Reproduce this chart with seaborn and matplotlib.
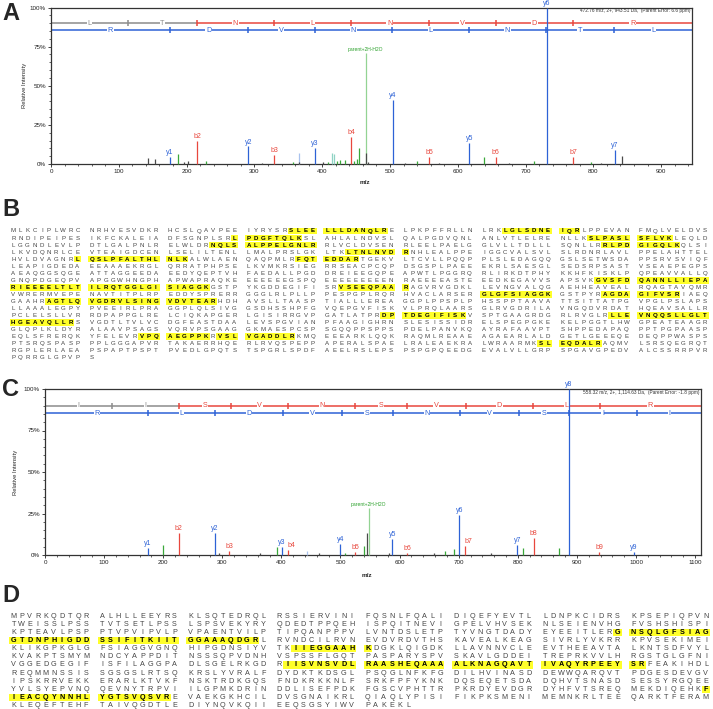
import numpy as np
import pandas as pd
import seaborn as sns
import matplotlib.pyplot as plt
from matplotlib.patches import Rectangle
from matplotlib.ticker import MultipleLocator, FuncFormatter

W, H = 713, 709

# ---- panel A spectrum (LTNLNVDR) ----
a_mz = [143, 153, 175.6, 188, 196, 201.6, 216, 228.6, 291, 311, 329, 357, 366, 366.5,
        389, 401, 408, 415, 418, 422, 426, 434, 442.5, 447, 452, 455, 464, 464.5, 468,
        504.5, 521.6, 540, 557.5, 572, 617, 638.6, 656, 676, 713, 731, 770, 797, 812,
        832, 842.6]
a_int = [4, 3, 4.5, 6.4, 1, 2, 14.6, 1.7, 11.2, 0.7, 5.7, 1.5, 7, 1.5,
         10.4, 1, 1, 6.8, 6.5, 2, 2.5, 2.5, 17.4, 2, 3, 10.4, 71, 7, 1,
         41.2, 0.8, 2, 4.7, 0.7, 13.2, 4.7, 4.3, 0.7, 2, 100, 4.3, 1.5, 0.7,
         9, 5.3]
a_kind = ["k", "k", "y", "g", "k", "k", "b", "g", "y", "k", "b", "g", "lb", "k",
          "y", "k", "g", "t", "t", "g", "g", "g", "b", "g", "g", "g", "p", "k", "k",
          "y", "k", "g", "b", "k", "y", "g", "b", "k", "g", "y", "b", "g", "k",
          "y", "k"]
a_label = ["", "", "y1", "", "", "", "b2", "", "y2", "", "b3", "", "", "",
           "y3", "", "", "", "", "", "", "", "b4", "", "", "", "parent+2H-H2O", "", "",
           "y4", "", "", "b5", "", "y5", "", "b6", "", "", "y6", "b7", "", "",
           "y7", ""]
a_b_ticks = [114, 215, 329, 442, 557, 656, 770]
a_b_letters = ["L", "T", "N", "L", "N", "V", "D", "R"]
a_y_ticks = [175, 290, 389, 503, 616, 730, 831]
a_y_letters = ["R", "D", "V", "N", "L", "N", "T", "L"]
a_info = "472.76 m/z, 2+, 943.51 Da,  (Parent Error: 6.6 ppm)"

# ---- panel C spectrum (IISVNSVDLR) ----
c_mz = [174, 199, 226, 287, 295, 312, 364, 393, 401, 411, 443.5, 463, 500, 508, 525,
        539.5, 545, 547.5, 582, 587.6, 613, 658, 676, 692, 701, 710, 754, 799.5, 808,
        826.6, 869, 886, 938, 997]
c_int = [4.4, 6, 13.4, 13.4, 1, 2.2, 1, 4.6, 5, 3, 2.5, 1, 6.6, 1.5, 2,
         5.4, 13, 28.5, 1, 9.4, 1, 1, 2.4, 3.4, 24, 5.4, 1, 6, 4,
         10.4, 4.4, 100, 1.8, 1.8]
c_kind = ["y", "g", "b", "y", "k", "b", "k", "g", "y", "b", "lb", "k", "y", "g", "b",
          "g", "k", "p", "k", "y", "b", "k", "g", "g", "y", "b", "k", "y", "g",
          "b", "g", "y", "b", "y"]
c_label = ["y1", "", "b2", "y2", "", "b3", "", "", "y3", "b4", "", "", "y4", "", "b5",
           "", "", "parent+2H-H2O", "", "y5", "b6", "", "", "", "y6", "b7", "", "y7", "",
           "b8", "", "y8", "b9", "y9"]
c_b_ticks = [113.6, 227, 314, 412, 525, 612, 712, 826, 939]
c_b_letters = ["I", "I", "S", "V", "N", "S", "V", "D", "L", "R"]
c_y_ticks = [175, 288, 403, 502, 589, 703, 802, 886, 1002]
c_y_letters = ["R", "L", "D", "V", "S", "N", "V", "S", "I", "I"]
c_info = "558.32 m/z, 2+, 1,114.63 Da,  (Parent Error: -1.8 ppm)"

# ---- panel B / D sequences, [ ] = identified peptide ----
b_rows = [
    "MLKCIPLWRC NRHVESVDKR HCSLQAVPEE IYRYSR[SLEE] [LLLDANQLR]E LPKPFFRLLN LRK[LGLSDNE] [IQR]LPPEVAN FMQLVELDVS",
    "RNDIPEIPES IKFCKALEIA DFSGNPLSR[L] [PDGFTQLK]SL AHLALNDVSL QALPGDVQNL ANLVTLELRE NLLK[SLPASL] [SFLVK]LEQLD",
    "LGGNDLEVLP DTLGALPNLR ELWLDR[NQLS] [ALPPELGNLR] RLVCLDVSEN RLEELPAELG GLVLLTDLLL SQNLLR[RLPD] [GIGQLK]QLSI",
    "LKVDQNRLCE VTEAIGDCEN LSELILTENL LMALPRSLGK LTK[LTNLNVD] [R]NHLEALPPE IGGCVALSVL SLRDNRLAVL PPELAHTTEL",
    "HVLDVAGNR[L] [QSLPFALTHL] [NLK]ALWLAEN QAQPMLR[FQT] [EDDAR]TGEKV LTCVLLPQQP PLSLEDAGQQ GSLSETWSDA PPSRVSVIQF",
    "LEAPIGDEDA EEAAAEKRGL QRRATPHPSE LKVMKRSIEG RRSEACPCQP DSGSPLPAEE EKRLSAESGL SEDSRPSAST VSEAEPEGPS",
    "AEAQGGSQGE ATTAGGEEDA EEDYQEPTVH FAEDALLPGD DREIEEGQPE APWTLPGGRQ RLIRKDTPHY KKHFKISKLP QPEAVVALLQ",
    "GNQPDGEQPV APGGWHNGPH APWAPRAQKE EEEEEEGSPQ EEEEEEEEEN RAEEEEASTE EEDKEGAVVS APSVK[GVSFD] [QANNLLIEPA]",
    "[RIEEEELTLT] [ILRQTGGLGI] [SIAGGK]GSTP YKGDDEGIFI SR[VSEEQPAA] [R]AGVRVGDKL LEVNGVALQG AEHHEAVEAL RQAGTAVQMR",
    "VWRERMVEPE NAVTITPLRP EDDYSPRERR GGGLRLPLLP PESPGPLRQR HVACLARSER [GLGFSIAGGK] GSTPYR[AGDA] [GIFVSR]IAEQ",
    "GAAHR[AGTLQ] [VGDRVLSING] [VDVTEAR]HDH AVSLLTAASP TIALLLEREA GGPLPPSPLP HSSPPTAAVA TTSITTATPG VPGLPSLAPS",
    "LLAAALEGPY PVEEIRLPRA GGPLQLSIVG GSDHSSHPFG VQEPGVFISK VLPRQLAARS GLRVGDRILA VNGQDVRDAT HQEAVSALLR",
    "PCLELSLLVR RDPAPPGLRE LCIQKAPGER LGISIRRGVP GATLATPR[DP] [TDEGIFISK]V SPTGAAGRDG RLRVGLR[LLE] [VNQQSLLGLT]",
    "[HGEAVQLLR]S VGDTLTVLVC DGFEASTDAA LEVSPGVIAN PFAAGIGHRN SLESISSIDR ELSPEGPGKE KELPGGTLHW GPEATEAAGR",
    "GLQPLKLDYR ALAAVPSAGS VQRVPSGAAG GKMAESPCSP SGQQPPSPPS PDELPANVKQ AYRAFAAVPT SHPPEDAPAQ PPTPGPAASP",
    "EQLSFRERQK YFELEVR[VPQ] [AEGPPK]R[VSL] [VGADDLR]KMQ EEEARKLQQK RAQMLREAAE AGAEARLALD GETLGEEEQE DEQPPWASPS",
    "PTSRQSPASP PPLGGGAPVR TAKAERRHQE RLRVQSPEPP APERALSPAE LRALEAEKRA LWRAARMK[SL] [EQDALR]AQMV LSRSQEGRQT",
    "RGPLERLAEA PSPAPTPSPT PVEDLGPQTS TSPGRLSPDF AEELRSLEPS PSPGPQEEDG EVALVLLGRP SPGAVGPEDV ALCSSRRPVR",
    "PQRRGLGPVP S",
]
d_rows = [
    "MPVRKQDTQR ALHLLEEYRS KLSQTEDRQL RSSIERVINI FQSNLFQALI DIQEFYEVTL LDNPKCIDRS KPSEPIQPVN",
    "TWEISSLPSS TVTSETLPSS LSPSVEKYRY QDEDTPPQEH ISPQITNEVI GPELVHVSEK NLSEIENVHG FVSHSHISPI",
    "KPTEAVLPSP PTVPVIPVLP VPAENTVILP TIPQANPPPV LVNTDSLETP TYVNGTDADY EYEEITLER[G] [NSQLGFSIAG]",
    "[GTDNPHIGDD] [SSIFITKIIT] [GGAAAQDGR]L RVNDCILRVN EVDVRDVTHS KAVEALKEAG SIVRLYVKRR KPVSEKIMEI",
    "KLIKGPKGLG FSIAGGVGNQ HIPGDNSIYV TK[IIEGGAAH] [K]DGKLQIGDK LLAVNNVCLE EVTHEEAVTA LKNTSDFVYL",
    "KVAKPTSMYM NDCYAPPDIT NSSSQPVDNH VSPSSFLGQT PASPARYSPV SKAVLGDDEI TREPRKVVLH RGSTGLGFNI",
    "VGGEDGEGIF ISFILAGGPA DLSGELRKGD R[IISVNSVDL] [RAASHEQAAA] [ALKNAGQAVT] [IVAQYRPEEY] [SR]FEAKIHDL",
    "REQMMNSSIS SGSGSLRTSQ KRSLYVRALF DYDKTKDSGL PSQGLNFKFG DILHVINASD DEWWQARQVT PDGESDEVGV",
    "IPSKRRVEKK ERARLKTVKF NSKTRDKGQS FNDKRKKNLF SRKFPFYKNK DQSEQETSDA DQHVTSNASD SESSYRGQEE",
    "YVLSYEPVNQ QEVNYTRPVI ILGPMKDRIN DDLISEFPDK FGSCVPHTTR PKRDYEVDGR DYHFVTSREQ MEKDIQEHK[F]",
    "[IEACQYNNHL] [YGTSVQSVR]E VAEKGKHCIL DVSGNAIKRL QIAQLYPISI FIKPKSMENI MEMNKRLTEE QARKTFERAM",
    "KLEQEFTEHF TAIVQGDTLE DIYNQVKQII EEQSGSYIWV PAKEKL",
]

peak_col = {"y": "#2d62d6", "b": "#e8473d", "p": "#93d393", "g": "#3aa83a",
            "k": "#4a4a4a", "lb": "#a9c2ee", "t": "#8fd3c4"}
label_col = {"y": "#2d62d6", "b": "#e8473d", "p": "#2aa02a"}
GREY, RED, BLUE = "#8c8c8c", "#e8473d", "#2d62d6"
HL = "#ffff2a"

sns.set_style("white")
plt.rcParams["font.family"] = ["Liberation Sans", "DejaVu Sans"]

fig = plt.figure(figsize=(7.13, 7.09), dpi=100)


def px_axes(left, top, right, bottom):
    return fig.add_axes([left / W, (H - bottom) / H, (right - left) / W, (bottom - top) / H])


def ladder(ax, ticks, letters, yv, xmax, col, ngrey=0):
    bounds = [0] + ticks + [xmax]
    for j, let in enumerate(letters):
        c = GREY if j < ngrey else col
        ax.plot([bounds[j], bounds[j + 1]], [yv, yv], color=c, lw=1.1, zorder=2,
                solid_capstyle="butt")
        ax.text((bounds[j] + bounds[j + 1]) / 2, yv, let, color=c, fontsize=5.2,
                ha="center", va="center", zorder=2.5,
                bbox=dict(fc="white", ec="none", pad=0.4))
    for i, t in enumerate(ticks):
        c = GREY if i < ngrey - 1 else col
        ax.vlines(t, yv - 1.8, yv + 1.8, color=c, lw=1.1, zorder=2.6)


def spectrum(ax, mz, inten, kind, label, xmax, bt, bl, ngrey, yt, yl, info, xlab_y, ylab_x):
    df = pd.DataFrame({"mz": mz, "int": inten, "kind": kind, "label": label})
    ax.set_xlim(0, xmax)
    ax.set_ylim(0, 100)
    ladder(ax, bt, bl, 90, xmax, RED, ngrey)
    ladder(ax, yt, yl, 85.5, xmax, BLUE)
    prev_x = -100
    for r in df.itertuples():
        z = 4 if r.kind in ("y", "b") else 3
        ax.vlines(r.mz, 0, r.int, color=peak_col[r.kind], lw=0.9, zorder=z, clip_on=False)
        if r.label:
            lx = r.mz
            # nudge a label that would sit on top of its neighbour
            if lx - prev_x < 0.014 * xmax:
                lx = prev_x + 0.014 * xmax
            ax.text(lx, r.int + 0.6, r.label, color=label_col[r.kind],
                    fontsize=3.6 if r.kind == "p" else 5, ha="center", va="bottom",
                    zorder=5, clip_on=False)
            prev_x = lx
    ax.text(xmax * 0.997, 97.8, info, fontsize=3.4, ha="right", va="center", color="#333333")
    ax.xaxis.set_major_locator(MultipleLocator(100))
    ax.xaxis.set_minor_locator(MultipleLocator(20))
    ax.yaxis.set_major_locator(MultipleLocator(25))
    ax.yaxis.set_minor_locator(MultipleLocator(5))
    ax.yaxis.set_major_formatter(FuncFormatter(lambda v, p: f"{v:.0f}%"))
    ax.tick_params(which="major", length=2.2, width=0.6, labelsize=4.5, pad=1.5,
                   direction="out", bottom=True, left=True, colors="#222222")
    ax.tick_params(which="minor", length=1.2, width=0.5, direction="out",
                   bottom=True, left=True, colors="#222222")
    for s in ax.spines.values():
        s.set_color("#333333")
        s.set_linewidth(0.9)
    ax.set_xlabel("m/z", fontsize=4.6, fontweight="bold")
    ax.xaxis.set_label_coords(0.49, xlab_y)
    ax.set_ylabel("Relative Intensity", fontsize=4.2)
    ax.yaxis.set_label_coords(ylab_x, 0.5)


ax_a = px_axes(51, 7.5, 692, 164)
spectrum(ax_a, a_mz, a_int, a_kind, a_label, 945.5, a_b_ticks, a_b_letters, 2,
         a_y_ticks, a_y_letters, a_info, -0.10, -0.037)

ax_c = px_axes(45, 389, 701, 555)
spectrum(ax_c, c_mz, c_int, c_kind, c_label, 1110, c_b_ticks, c_b_letters, 2,
         c_y_ticks, c_y_letters, c_info, -0.108, -0.041)

# ---- sequence panels and panel letters, drawn in pixel space ----
ax_t = fig.add_axes([0, 0, 1, 1])
ax_t.set_xlim(0, W)
ax_t.set_ylim(H, 0)
ax_t.axis("off")


def sequence(rows, x0, y0, pitch, rowh, hl_h, fs):
    for i, row in enumerate(rows):
        yv = y0 + i * rowh
        col, hl = 0, False
        for ch in row:
            if ch == "[":
                hl = True
            elif ch == "]":
                hl = False
            elif ch == " ":
                col += 1
            else:
                xv = x0 + col * pitch
                if hl:
                    ax_t.add_patch(Rectangle((xv - pitch / 2 - 0.2, yv - hl_h / 2), pitch + 0.4,
                                             hl_h, fc=HL, ec="none", lw=0, zorder=1))
                ax_t.text(xv, yv, ch, fontsize=fs, ha="center", va="center",
                          color="black" if hl else "#454545",
                          fontweight="bold" if hl else "normal", zorder=2)
                col += 1


sequence(b_rows, 13.3, 231.0, 7.13, 7.04, 6.6, 4.4)
sequence(d_rows, 13.6, 616.0, 8.05, 8.15, 7.4, 5.2)

for let, yv in zip(["A", "B", "C", "D"], [14, 210, 390, 596]):
    ax_t.text(2, yv, let, fontsize=17, fontweight="bold", ha="left", va="center")

fig.savefig("out.png", dpi=100)
